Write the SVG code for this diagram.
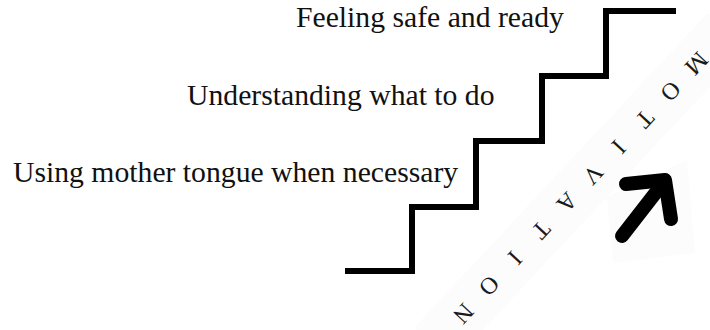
<svg xmlns="http://www.w3.org/2000/svg" width="710" height="330" viewBox="0 0 710 330">
<style>
.lbl{font-family:"Liberation Serif","Times New Roman",serif;font-size:29.7px;fill:#111}
.mot{font-family:"Liberation Serif","Times New Roman",serif;font-size:24px;fill:#1a1a1a}
.stair{fill:none;stroke:#000;stroke-width:6;stroke-linejoin:miter}
.arrow{fill:none;stroke:#000;stroke-width:14;stroke-linecap:round;stroke-linejoin:round}
.band{fill:#fcfcfc}
</style>
<rect width="710" height="330" fill="#fff"/>
<g id="stairs">
<polyline class="stair" points="345,271 412,271 412,207 476,207 476,141 542,141 542,76 606,76 606,11 676,11"/>
</g>
<g id="labels">
<text id="step3" class="lbl" x="296" y="27">Feeling safe and ready</text>
<text id="step2" class="lbl" x="187" y="105">Understanding what to do</text>
<text id="step1" class="lbl" x="13" y="182">Using mother tongue when necessary</text>
</g>
<g id="motivation">
<rect class="band" x="-215" y="-26" width="430" height="52" transform="translate(580,188) rotate(133)"/>
<text class="mot" transform="translate(580,188.5) rotate(133)" text-anchor="middle" dominant-baseline="central" x="-171 -133 -95 -57 -19 19 57 95 133 171" y="0">MOTIVATION</text>
</g>
<g id="arrow">
<polygon class="band" points="607,197 687,160 695,253 613,263"/>
<line class="arrow" x1="622" y1="236" x2="664" y2="182"/>
<polyline class="arrow" points="626,184 665,180 671,219"/>
</g>
</svg>
